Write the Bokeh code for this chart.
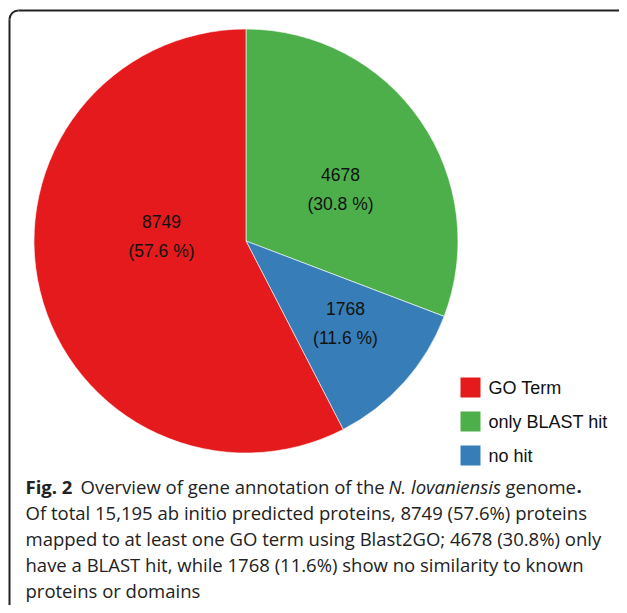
import math
from bokeh.plotting import figure
from bokeh.models import Range1d
from bokeh.core.properties import value
from bokeh.embed import file_html
from bokeh.resources import INLINE

# ---- data ----
categories = ["GO Term", "only BLAST hit", "no hit"]
counts = [8749, 4678, 1768]
colors = ["#E41A1C", "#4DAF4A", "#377EB8"]

caption_lines = [
    "Of total 15,195 ab initio predicted proteins, 8749 (57.6%) proteins",
    "mapped to at least one GO term using Blast2GO; 4678 (30.8%) only",
    "have a BLAST hit, while 1768 (11.6%) show no similarity to known",
    "proteins or domains",
]

# ---- layout (image pixel coordinates) ----
W, H = 619, 605
def Y(img_y):
    return H - img_y

p = figure(width=W, height=H, output_backend="svg", toolbar_location=None,
           x_range=Range1d(0, W), y_range=Range1d(0, H),
           min_border=0, min_border_left=0, min_border_right=0,
           min_border_top=0, min_border_bottom=0)
p.axis.visible = False
p.grid.visible = False
p.outline_line_color = None
p.background_fill_color = "white"
p.border_fill_color = "white"

# pie: clockwise from top, order green, blue, red
total = sum(counts)
order = [1, 2, 0]
cx, cy, r = 245.5, Y(240.5), 212
starts, ends, cols = [], [], []
a = math.pi / 2
for i in order:
    span = 2 * math.pi * counts[i] / total
    starts.append(a)
    ends.append(a - span)
    cols.append(colors[i])
    a -= span
p.wedge(x=[cx] * 3, y=[cy] * 3, radius=r, start_angle=starts, end_angle=ends,
        direction="clock", fill_color=cols, line_color="white", line_width=0.6)

# slice labels
label_pos = {0: (161, 221, 250), 1: (340, 174, 203), 2: (345, 308, 337)}
for i in range(3):
    lx, ly1, ly2 = label_pos[i]
    pct = 100 * counts[i] / total
    p.text(x=[lx, lx], y=[Y(ly1), Y(ly2)],
           text=[f"{counts[i]}", f"({pct:.1f} %)"],
           text_font=value("Liberation Sans"), text_font_size=value("17.5px"),
           text_align="center", text_baseline="middle", text_color="#111111")

# legend
leg_y = [387, 421, 455]
p.rect(x=[470] * 3, y=[Y(v) for v in leg_y], width=20, height=20,
       fill_color=colors, line_color=None)
p.text(x=[488] * 3, y=[Y(v) for v in leg_y], text=categories,
       text_font=value("Liberation Sans"), text_font_size=value("18px"),
       text_align="left", text_baseline="middle", text_color="#111111")

# border (rounded corner, cut at right/bottom)
br = 9
bx, by = 9, 10
p.line(x=[bx + br, W], y=[Y(by), Y(by)], line_color="#222222", line_width=2)
p.line(x=[bx, bx], y=[Y(by + br), 0], line_color="#222222", line_width=2)
p.arc(x=[bx + br], y=[Y(by + br)], radius=br, start_angle=math.pi / 2,
      end_angle=math.pi, line_color="#222222", line_width=2)

# caption
cap_font = value("Open Sans")
fs = value("18.5px")
line1_y = Y(486)
segs = [
    (25, "Fig. 2", "bold"),
    (80, "Overview of gene annotation of the", "normal"),
    (388, "N. lovaniensis", "italic"),
    (505, "genome", "normal"),
    (576, ".", "bold"),
]
for sx, st, sty in segs:
    p.text(x=[sx], y=[line1_y], text=[st], text_font=cap_font, text_font_size=fs,
           text_font_style=sty, text_align="left", text_baseline="middle",
           text_color="#222222")
cap_ys = [512, 538, 564, 590]
p.text(x=[25] * 4, y=[Y(v) for v in cap_ys], text=caption_lines,
       text_font=cap_font, text_font_size=fs, text_align="left",
       text_baseline="middle", text_color="#222222")

open("out.html", "w").write(file_html(p, INLINE))
